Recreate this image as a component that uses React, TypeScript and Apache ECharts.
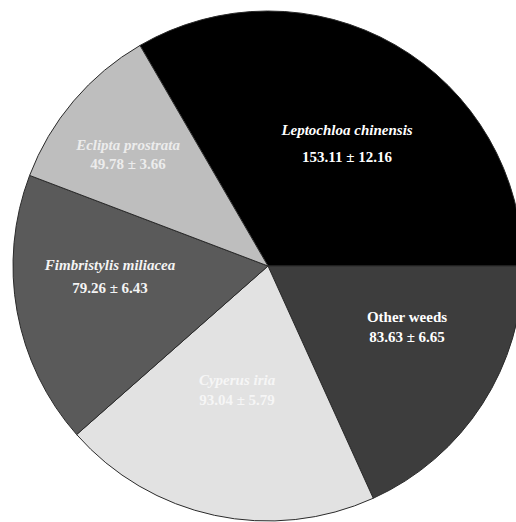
import React, { useEffect, useRef } from "react";
import * as echarts from "echarts";

const names = [
  "Leptochloa chinensis",
  "Other weeds",
  "Cyperus iria",
  "Fimbristylis miliacea",
  "Eclipta prostrata",
];
const means = [153.11, 83.63, 93.04, 79.26, 49.78];
const errors = [12.16, 6.65, 5.79, 6.43, 3.66];
const italicName = [true, false, true, true, true];
const sliceColors = ["#000000", "#3d3d3d", "#e2e2e2", "#5a5a5a", "#bebebe"];
const textColors = ["#ffffff", "#ffffff", "#f6f6f6", "#f4f4f4", "#ececec"];
const labelPos: [number, number][] = [
  [347, 143],
  [407, 327],
  [237, 390],
  [110, 276],
  [128, 154],
];
const lineGaps = [27, 20, 20, 23, 19];

export default function App() {
  const ref = useRef<HTMLDivElement>(null);
  useEffect(() => {
    if (!ref.current) return;
    const chart = echarts.init(ref.current, undefined, { renderer: "svg" });
    const total = means.reduce((a, b) => a + b, 0);
    chart.setOption({
      animation: false,
      backgroundColor: "#ffffff",
      series: [
        {
          type: "pie",
          center: [268, 266],
          radius: [0, 255],
          startAngle: (360 * means[0]) / total,
          clockwise: true,
          avoidLabelOverlap: false,
          itemStyle: { borderColor: "#2a2a2a", borderWidth: 1 },
          label: {
            show: true,
            position: "inside",
            fontFamily: "Liberation Serif",
            fontWeight: "bold",
            fontSize: 15,
          },
          labelLine: { show: false },
          labelLayout: (p: any) => ({
            x: labelPos[p.dataIndex][0],
            y: labelPos[p.dataIndex][1],
            align: "center",
            verticalAlign: "middle",
          }),
          data: names.map((n, i) => ({
            name: n,
            value: means[i],
            itemStyle: { color: sliceColors[i] },
            label: {
              color: textColors[i],
              formatter: `{${italicName[i] ? "a" : "b"}|${n}}\n{b|${means[i].toFixed(2)} ± ${errors[i].toFixed(2)}}`,
              rich: {
                a: {
                  fontStyle: "italic",
                  fontWeight: "bold",
                  fontFamily: "Liberation Serif",
                  fontSize: 15,
                  color: textColors[i],
                  lineHeight: lineGaps[i],
                },
                b: {
                  fontWeight: "bold",
                  fontFamily: "Liberation Serif",
                  fontSize: 15,
                  color: textColors[i],
                  lineHeight: lineGaps[i],
                },
              },
            },
          })),
        },
      ],
    });
    return () => chart.dispose();
  }, []);
  return (
    <div
      ref={ref}
      style={{ position: "absolute", left: 0, top: 0, width: 516, height: 522 }}
    />
  );
}
